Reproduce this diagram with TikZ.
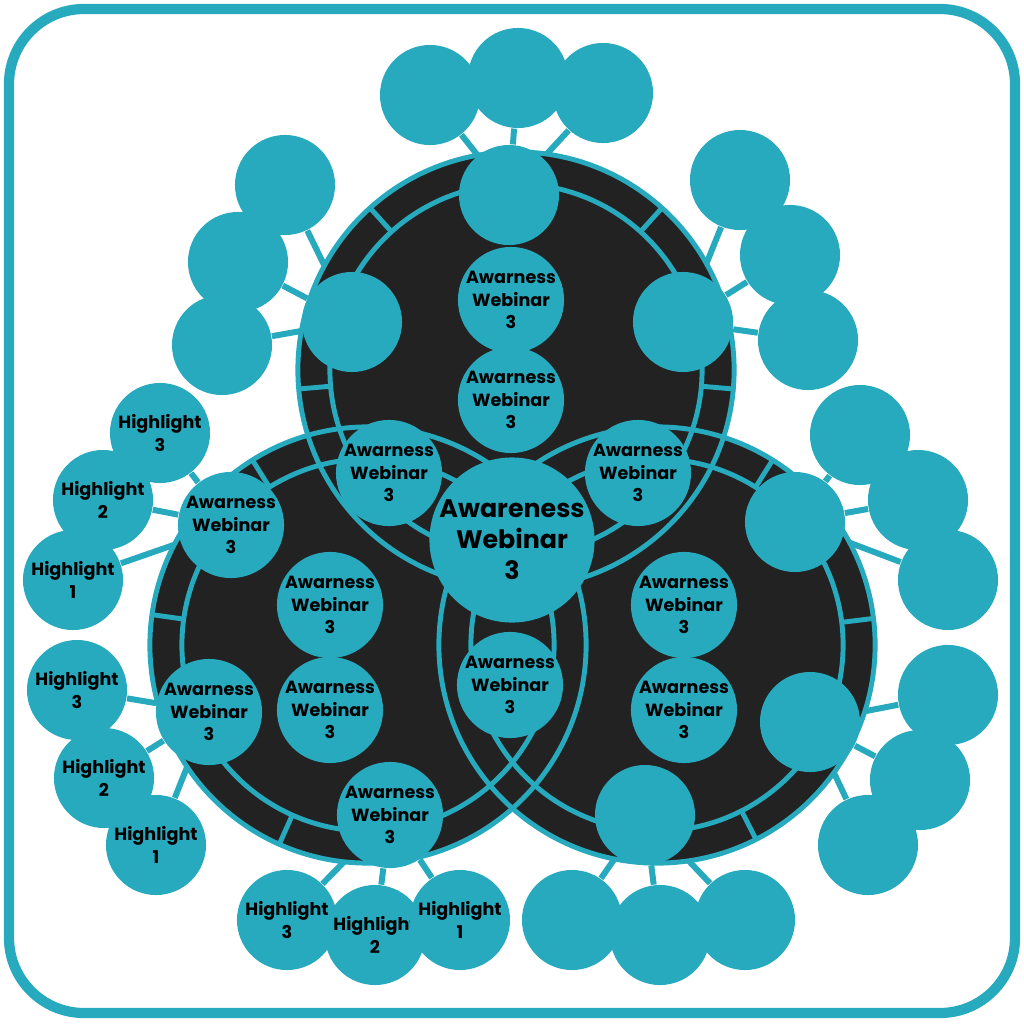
\documentclass[tikz,border=0pt]{standalone}
\usepackage{fontspec}
\setmainfont{Poppins}
\usetikzlibrary{positioning, backgrounds}
\definecolor{teal0}{HTML}{27A9BE}
\definecolor{dark0}{HTML}{222222}
\tikzstyle{bub} = [circle, fill = teal0, minimum size = 1cm, inner sep = 0, align = center, font = \fontsize{5}{6.3}\selectfont\bfseries]
\tikzstyle{hub} = [circle, fill = teal0, minimum size = 1.64cm, inner sep = 0, align = center, font = \fontsize{7.2}{8.8}\selectfont\bfseries]
\tikzstyle{link} = [draw = teal0, line width = 1.7pt]
\tikzstyle{rim} = [draw = teal0, line width = 1.4pt]
\newcommand{\aw}{Awarness\\Webinar\\3}
\newcommand{\hl}[1]{Highlight\\#1}
\begin{document}
\begin{tikzpicture}[x = 0.01cm, y = -0.01cm]
    \useasboundingbox (0, 0) rectangle (1024, 1024);
    \draw[teal0, line width = 2.9pt, rounded corners = 0.75cm] (9, 9) rectangle (1015, 1013);

    % big circles
    \foreach \c in {(516,370), (368,645), (657,645)}
        \fill[dark0] \c circle (2.18cm);
    \foreach \c in {(516,370), (368,645), (657,645)}
        \draw[rim] \c circle (2.18cm) \c circle (1.86cm);
    \foreach \ang in {48, 132, 185, -5}
        \draw[rim] (516, 370) ++(\ang:1.86cm) -- ++(\ang:0.32cm);
    \foreach \ang in {172, -114, 122}
        \draw[rim] (368, 645) ++(\ang:1.86cm) -- ++(\ang:0.32cm);
    \foreach \ang in {7, -63, 58}
        \draw[rim] (657, 645) ++(\ang:1.86cm) -- ++(\ang:0.32cm);

    % bubbles inside
    \node[hub] (core) at (512, 540) {Awareness\\Webinar\\3};
    \node[bub] (tA) at (509, 195) {};
    \node[bub] (tB) at (352, 322) {};
    \node[bub] (tC) at (683, 322) {};
    \node[bub] (lA) at (231, 525) {\aw};
    \node[bub] (lB) at (209, 712) {\aw};
    \node[bub] (lC) at (390, 815) {\aw};
    \node[bub] (rA) at (795, 522) {};
    \node[bub] (rB) at (810, 722) {};
    \node[bub] (rC) at (645, 815) {};
    \node[bub] (i1) at (511, 300) {\aw};
    \node[bub] (i2) at (511, 400) {\aw};
    \node[bub] (i3) at (389, 473) {\aw};
    \node[bub] (i4) at (638, 473) {\aw};
    \node[bub] (i5) at (510, 685) {\aw};
    \node[bub] (i6) at (330, 605) {\aw};
    \node[bub] (i7) at (330, 710) {\aw};
    \node[bub] (i8) at (684, 605) {\aw};
    \node[bub] (i9) at (684, 710) {\aw};

    % outer bubbles
    \node[bub] (t1) at (430, 95) {};
    \node[bub] (t2) at (518, 78) {};
    \node[bub] (t3) at (603, 93) {};
    \node[bub] (u1) at (285, 185) {};
    \node[bub] (u2) at (238, 262) {};
    \node[bub] (u3) at (222, 345) {};
    \node[bub] (v1) at (740, 180) {};
    \node[bub] (v2) at (790, 255) {};
    \node[bub] (v3) at (808, 340) {};
    \node[bub] (p3) at (160, 433) {\hl{3}};
    \node[bub] (p2) at (103, 500) {\hl{2}};
    \node[bub] (p1) at (73, 580) {\hl{1}};
    \node[bub] (q3) at (77, 690) {\hl{3}};
    \node[bub] (q2) at (104, 778) {\hl{2}};
    \node[bub] (q1) at (156, 845) {\hl{1}};
    \node[bub] (s3) at (287, 920) {\hl{3}};
    \node[bub] (s2) at (375, 935) {\hl{2}};
    \node[bub] (s1) at (460, 920) {\hl{1}};
    \node[bub] (w1) at (860, 435) {};
    \node[bub] (w2) at (918, 500) {};
    \node[bub] (w3) at (948, 580) {};
    \node[bub] (x1) at (948, 695) {};
    \node[bub] (x2) at (920, 780) {};
    \node[bub] (x3) at (868, 845) {};
    \node[bub] (y1) at (572, 920) {};
    \node[bub] (y2) at (660, 935) {};
    \node[bub] (y3) at (745, 920) {};

    \begin{scope}[on background layer]
    \foreach \a/\b in {t1/tA, t2/tA, t3/tA, u1/tB, u2/tB, u3/tB, v1/tC, v2/tC, v3/tC,
                       p1/lA, p2/lA, p3/lA, q1/lB, q2/lB, q3/lB, s1/lC, s2/lC, s3/lC,
                       w1/rA, w2/rA, w3/rA, x1/rB, x2/rB, x3/rB, y1/rC, y2/rC, y3/rC}
        \path[link] (\a) -- (\b);
    \end{scope}
\end{tikzpicture}
\end{document}
